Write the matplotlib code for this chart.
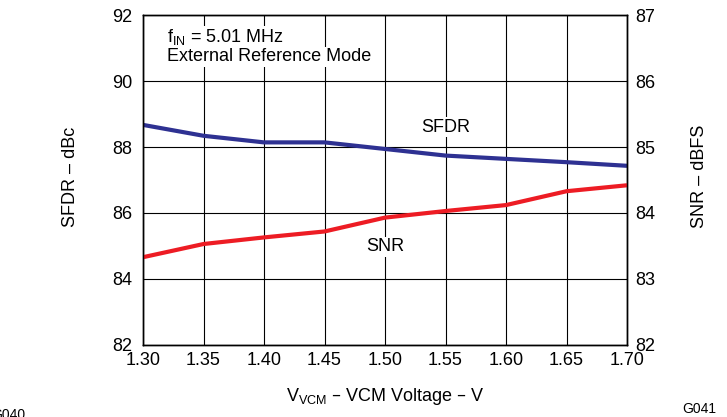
import matplotlib.pyplot as plt
import numpy as np

plt.rcParams['font.family'] = ['Liberation Sans', 'DejaVu Sans']

vcm = [1.30, 1.35, 1.40, 1.45, 1.50, 1.55, 1.60, 1.65, 1.70]
sfdr = [88.67, 88.34, 88.14, 88.14, 87.94, 87.74, 87.64, 87.54, 87.43]
snr = [83.33, 83.53, 83.63, 83.72, 83.93, 84.03, 84.12, 84.33, 84.42]

fs = 13

fig = plt.figure(figsize=(7.27, 4.17), dpi=100)
ax = fig.add_axes([0.1967, 0.1727, 0.6658, 0.7913])
ax2 = ax.twinx()

ax.plot(vcm, sfdr, color='#2E3192', lw=3, solid_capstyle='butt')
ax2.plot(vcm, snr, color='#ED1C24', lw=3, solid_capstyle='butt')

ax.set_xlim(1.30, 1.70)
ax.set_ylim(82, 92)
ax2.set_ylim(82, 87)
xt = np.arange(1.30, 1.701, 0.05)
ax.set_xticks(xt)
ax.set_xticklabels(['%.2f' % v for v in xt])
ax.set_yticks(range(82, 93, 2))
ax2.set_yticks(range(82, 88))
ax.grid(True, color='black', lw=0.8)
ax.set_axisbelow(True)
ax.tick_params(axis='x', length=0, labelsize=fs, pad=5)
ax.tick_params(axis='y', length=0, labelsize=fs, pad=8)
ax2.tick_params(length=0, labelsize=fs, pad=6)
for a in (ax, ax2):
    for s in a.spines.values():
        s.set_linewidth(1)

ax.set_ylabel('SFDR – dBc', fontsize=fs)
ax2.set_ylabel('SNR – dBFS', fontsize=fs)
ax.yaxis.set_label_coords(-0.133, 0.51)
ax2.yaxis.set_label_coords(1.133, 0.51)
ax.set_xlabel(r'V$_{\mathregular{VCM}}$ – VCM Voltage – V', fontsize=fs, labelpad=12)

box = dict(facecolor='white', edgecolor='none', pad=1)
ax.text(1.32, 91.32, r'f$_{\mathregular{IN}}$ = 5.01 MHz', fontsize=fs, va='center', bbox=box)
ax.text(1.32, 90.74, 'External Reference Mode', fontsize=fs, va='center', bbox=box)
ax.text(1.55, 88.6, 'SFDR', fontsize=fs, ha='center', va='center', bbox=box)
ax.text(1.50, 84.97, 'SNR', fontsize=fs, ha='center', va='center', bbox=box)

fig.text(0.962, 0.002, 'G041', fontsize=10, ha='center', va='bottom')
fig.text(-0.012, -0.012, 'G040', fontsize=10, ha='left', va='bottom')

fig.savefig('out.png', dpi=100)
